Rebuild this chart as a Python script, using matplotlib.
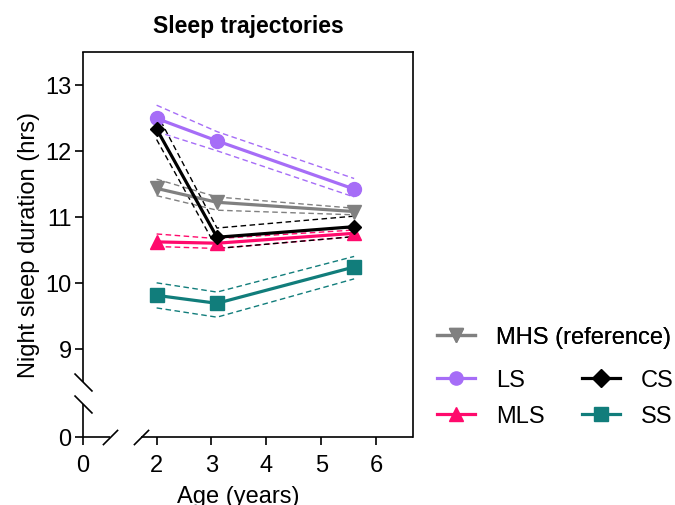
''' Sleep trajectories: night sleep duration by age, per sleep group, with broken axes.'''
import numpy as np
import matplotlib
matplotlib.use('Agg')
import matplotlib.pyplot as plt
from matplotlib.path import Path
from matplotlib.lines import Line2D

plt.rcParams['font.family'] = ['Liberation Sans', 'DejaVu Sans']

ages = [2.0, 3.1, 5.6]
groups = ['MHS (reference)', 'LS', 'MLS', 'CS', 'SS']
colors = ['#808080', '#A66DF7', '#FF0A6C', '#000000', '#117D7B']
markers = ['v', 'o', '^', 'D', 's']
msizes = [10, 10, 10, 7, 9.5]

mhs_mean = [11.43, 11.22, 11.08]
mhs_lo = [11.32, 11.10, 11.03]
mhs_hi = [11.57, 11.30, 11.13]

ls_mean = [12.49, 12.15, 11.42]
ls_lo = [12.29, 12.00, 11.30]
ls_hi = [12.69, 12.29, 11.58]

mls_mean = [10.62, 10.60, 10.75]
mls_lo = [10.55, 10.52, 10.70]
mls_hi = [10.74, 10.67, 10.80]

cs_mean = [12.33, 10.69, 10.85]
cs_lo = [12.17, 10.52, 10.70]
cs_hi = [12.57, 10.83, 11.01]

ss_mean = [9.81, 9.69, 10.24]
ss_lo = [9.62, 9.48, 10.06]
ss_hi = [10.00, 9.86, 10.40]

means = [mhs_mean, ls_mean, mls_mean, cs_mean, ss_mean]
lows = [mhs_lo, ls_lo, mls_lo, cs_lo, ss_lo]
highs = [mhs_hi, ls_hi, mls_hi, cs_hi, ss_hi]


def piecewise_scale(data_pts, px_pts):
    ''' Broken-axis scale: piecewise linear map from data to pixel-ish units '''
    d = np.asarray(data_pts, float)
    p = np.asarray(px_pts, float)

    def fwd(v):
        return np.interp(v, d, p)

    def inv(v):
        return np.interp(v, p, d)
    return fwd, inv


# x: [0, 0.5] | gap | [1.72, 6.675] ; y: [0, 0.5] | gap | [8.5, 13.5]
xs_d = [-50, 0, 0.5, 1.72, 6.675, 60]
xs_p = [-50 * 54.8, 0, 27.4, 58.5, 330.0, 330.0 + 53.3 * 54.8]
ys_d = [-50, 0, 0.5, 8.5, 13.5, 60]
ys_p = [-50 * 66, 0, 33, 55, 384.5, 384.5 + 46.5 * 66]

fig = plt.figure(figsize=(6.75, 5.06), dpi=100)
ax = fig.add_axes([0.1225, 0.1344, 0.4895, 0.7614])
ax.set_xscale('function', functions=piecewise_scale(xs_d, xs_p))
ax.set_yscale('function', functions=piecewise_scale(ys_d, ys_p))
ax.set_xlim(0, 6.675)
ax.set_ylim(0, 13.5)

# confidence bands as thin dashed lines, then the means
for col, lo, hi in zip(colors, lows, highs):
    ax.plot(ages, lo, color=col, lw=1.0, ls=(0, (4, 2.5)), zorder=2)
    ax.plot(ages, hi, color=col, lw=1.0, ls=(0, (4, 2.5)), zorder=2)

order = [0, 1, 2, 4, 3]
for i in order:
    ax.plot(ages, means[i], color=colors[i], lw=2.3, marker=markers[i],
            ms=msizes[i], mec=colors[i], mfc=colors[i], zorder=3 + i)

ax.set_xticks([0, 2, 3, 4, 5, 6])
ax.set_yticks([0, 9, 10, 11, 12, 13])
ax.minorticks_off()
ax.tick_params(labelsize=17, width=1.2, length=6, colors='black')
ax.tick_params(axis='x', pad=6)
ax.tick_params(axis='y', pad=2)

for side in ['left', 'bottom']:
    ax.spines[side].set_visible(False)
for side in ['top', 'right']:
    ax.spines[side].set_linewidth(1.2)

# broken left and bottom spines
ytr = ax.get_yaxis_transform()
xtr = ax.get_xaxis_transform()
for y0, y1 in [(0, 0.5), (8.5, 13.5)]:
    ax.plot([0, 0], [y0, y1], transform=ytr, color='black', lw=1.2,
            solid_capstyle='butt', clip_on=False, zorder=10)
for x0, x1 in [(0, 0.5), (1.72, 6.675)]:
    ax.plot([x0, x1], [0, 0], transform=xtr, color='black', lw=1.2,
            solid_capstyle='butt', clip_on=False, zorder=10)

back = Path([(-1, 1), (1, -1)], [Path.MOVETO, Path.LINETO])
fwd_sl = Path([(-1, -1), (1, 1)], [Path.MOVETO, Path.LINETO])
ax.plot([0, 0], [0.5, 8.5], transform=ytr, ls='none', marker=back, ms=13,
        mfc='none', mec='black', mew=1.2, clip_on=False, zorder=10)
ax.plot([0.5, 1.72], [0, 0], transform=xtr, ls='none', marker=fwd_sl, ms=11,
        mfc='none', mec='black', mew=1.2, clip_on=False, zorder=10)

ax.set_ylabel('Night sleep duration (hrs)', fontsize=17, labelpad=4)
ax.set_xlabel('Age (years)', fontsize=17)
ax.xaxis.set_label_coords(0.47, -0.125)
ax.set_title('Sleep trajectories', fontsize=16.5, fontweight='bold', pad=14)

handles = [Line2D([], [], color=c, lw=2.3, marker=m, ms=9.5, mec=c, mfc=c)
           for c, m in zip(colors, markers)]
leg1 = fig.legend([handles[0]], [groups[0]], loc='center left',
                  bbox_to_anchor=(0.647, 0.332), frameon=False, fontsize=17,
                  handlelength=1.6, handletextpad=0.9, borderpad=0,
                  borderaxespad=0)
fig.legend([handles[1], handles[2], handles[3], handles[4]],
           [groups[1], groups[2], groups[3], groups[4]], ncol=2,
           loc='center left', bbox_to_anchor=(0.647, 0.2115), frameon=False,
           fontsize=17, handlelength=1.6, handletextpad=0.9, borderpad=0,
           borderaxespad=0, labelspacing=0.6, columnspacing=1.6)
fig.add_artist(leg1)

fig.savefig('out.png', dpi=100)
